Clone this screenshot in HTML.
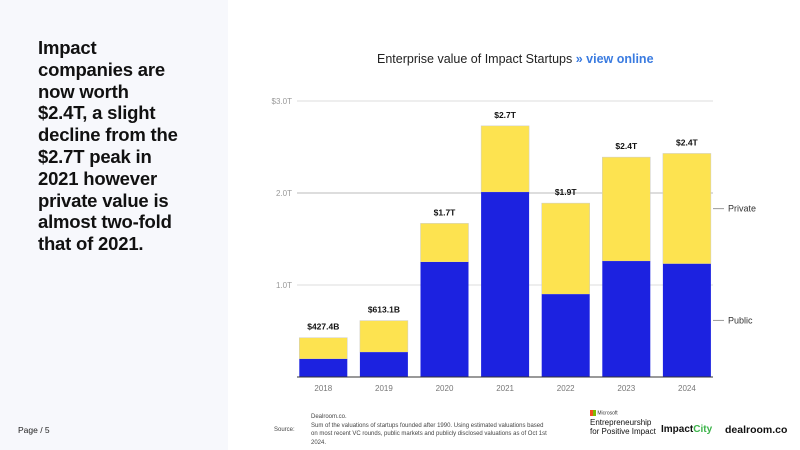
<!DOCTYPE html>
<html><head><meta charset="utf-8"><style>
body{margin:0;width:800px;height:450px;position:relative;background:#fff;font-family:"Liberation Sans",sans-serif;overflow:hidden}
.left{position:absolute;left:0;top:0;width:228px;height:450px;background:#f7f8fc}
.head{position:absolute;left:38px;top:37px;width:190px;font-weight:bold;font-size:18.5px;line-height:21.8px;color:#111;letter-spacing:-0.2px;white-space:nowrap}
.page{position:absolute;left:18px;top:425px;font-size:8.5px;color:#222}
.title{position:absolute;left:377px;top:52px;font-size:12.5px;color:#222}
.title b{color:#3a7be0}
.src{position:absolute;font-size:6px;color:#444;line-height:8.5px}
</style></head><body>
<div class="left"></div>
<div class="head">Impact<br>companies are<br>now worth<br>$2.4T, a slight<br>decline from the<br>$2.7T peak in<br>2021 however<br>private value is<br>almost two-fold<br>that of 2021.</div>
<div class="page">Page / 5</div>
<div class="title">Enterprise value of Impact Startups <b>» view online</b></div>
<svg id="chart" width="800" height="450" style="position:absolute;left:0;top:0"></svg>
<div class="src" style="left:274px;top:426px">Source:</div>
<div class="src" style="left:311px;top:413px;width:240px">Dealroom.co.<br>Sum of the valuations of startups founded after 1990. Using estimated valuations based on most recent VC rounds, public markets and publicly disclosed valuations as of Oct 1st 2024.</div>
<div style="position:absolute;left:590px;top:410px;font-size:5px;color:#333"><span style="display:inline-block;width:6px;height:6px;background:linear-gradient(90deg,#f25022 50%,#7fba00 50%);vertical-align:middle"></span> Microsoft</div>
<div style="position:absolute;left:590px;top:418px;font-size:8px;line-height:9px;color:#111">Entrepreneurship<br>for Positive Impact</div>
<div style="position:absolute;left:661px;top:424px;font-size:10px;font-weight:bold;color:#111">Impact<span style="color:#3cb44a">City</span></div>
<div style="position:absolute;left:725px;top:424px;font-size:10.5px;font-weight:bold;color:#111">dealroom.co</div>
<script>
const years=["2018","2019","2020","2021","2022","2023","2024"];
const publicVals=[0.196,0.27,1.25,2.01,0.90,1.26,1.23];
const totalVals=[0.4274,0.6131,1.67,2.73,1.89,2.39,2.43];
const totalLabels=["$427.4B","$613.1B","$1.7T","$2.7T","$1.9T","$2.4T","$2.4T"];
const yTicks=[1,2,3];
const yTickLabels=["1.0T","2.0T","$3.0T"];
const svg=document.getElementById('chart');
const NS="http://www.w3.org/2000/svg";
const y0=377,pxPerT=92,x0=293,step=60.6,bw=48;
const yScale=v=>y0-v*pxPerT;
const xCenter=i=>x0+step*i+step/2;
function mk(t,a){const e=document.createElementNS(NS,t);for(const k in a)e.setAttribute(k,a[k]);svg.appendChild(e);return e;}
yTicks.forEach((t,i)=>{
 const g=mk('line',{x1:297,x2:713,y1:yScale(t),y2:yScale(t),stroke:i==1?'#bbb':'#ddd','stroke-width':1});
 
 
 const tx=mk('text',{x:292,y:yScale(t)+3,'text-anchor':'end','font-size':8,fill:'#999','font-family':'Liberation Sans'});
 tx.textContent=yTickLabels[i];
 
 
});
years.forEach((yr,i)=>{
 const cx=xCenter(i);
 const p=mk('rect',{x:cx-bw/2,y:yScale(totalVals[i]),width:bw,height:(totalVals[i]-publicVals[i])*pxPerT,fill:'#fde350',stroke:'#ccc','stroke-width':0.5});
 
 
 const b=mk('rect',{x:cx-bw/2,y:yScale(publicVals[i]),width:bw,height:publicVals[i]*pxPerT,fill:'#1c22e0'});
 
 
 const l=mk('text',{x:cx,y:yScale(totalVals[i])-8,'text-anchor':'middle','font-size':8.5,'font-weight':'bold',fill:'#111','font-family':'Liberation Sans'});
 l.textContent=totalLabels[i];
 
 
 const xl=mk('text',{x:cx,y:y0+14,'text-anchor':'middle','font-size':8,fill:'#777','font-family':'Liberation Sans'});
 xl.textContent=yr;
 
 
});
const ax=mk('line',{x1:297,x2:713,y1:y0,y2:y0,stroke:'#333','stroke-width':1});


const last=totalVals.length-1;
[["Private",(totalVals[last]+publicVals[last])/2],["Public",publicVals[last]/2]].forEach(([n,v])=>{
 const yy=yScale(v);
 const ln=mk('line',{x1:713,x2:724,y1:yy,y2:yy,stroke:'#999'});
 
 
 const t=mk('text',{x:728,y:yy+3,'font-size':9,fill:'#333','font-family':'Liberation Sans'});
 t.textContent=n;
 
 
});
</script>
</body></html>
